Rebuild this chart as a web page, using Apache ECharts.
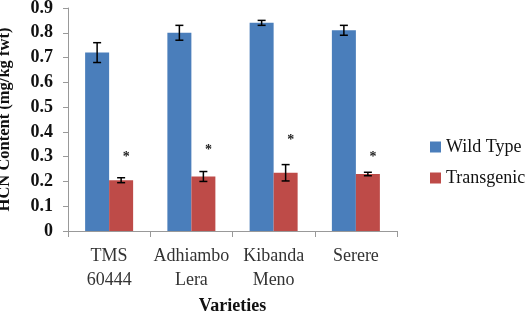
<!DOCTYPE html>
<html>
<head>
<meta charset="utf-8">
<script src="https://cdn.jsdelivr.net/npm/echarts@6/dist/echarts.min.js"></script>
<style>
  html, body { margin: 0; padding: 0; background: #fff; }
  #chart { width: 531px; height: 315px; }
</style>
</head>
<body>
<div id="chart"></div>
<script>
const varieties = ["TMS\n60444", "Adhiambo\nLera", "Kibanda\nMeno", "Serere"]
const wildType = [0.72, 0.80, 0.84, 0.81]
const wildTypeErr = [0.04, 0.03, 0.01, 0.02]
const transgenic = [0.205, 0.22, 0.235, 0.23]
const transgenicErr = [0.01, 0.02, 0.033, 0.007]
// where the significance stars sit
const starY = [0.305, 0.335, 0.375, 0.305]
const yTicks = [0, 0.1, 0.2, 0.3, 0.4, 0.5, 0.6, 0.7, 0.8, 0.9]

const barW = 24
const serif = "Liberation Serif"

const chart = echarts.init(document.getElementById("chart"))

// draws one error bar centred on a bar (shift = -1 left bar, +1 right bar)
const errorBar = (vals, errs, shift) => (params, api) => {
  const i = api.value(0)
  const x = api.coord([i, 0])[0] + shift * barW / 2
  const top = api.coord([i, vals[i] + errs[i]])[1]
  const bot = api.coord([i, vals[i] - errs[i]])[1]
  const style = { stroke: "#000", lineWidth: 1.5 }
  return {
    type: "group",
    children: [
      { type: "line", shape: { x1: x, y1: top, x2: x, y2: bot }, style },
      { type: "line", shape: { x1: x - 4, y1: top, x2: x + 4, y2: top }, style },
      { type: "line", shape: { x1: x - 4, y1: bot, x2: x + 4, y2: bot }, style },
    ],
  }
}

const option = {
  animation: false,
  textStyle: { fontFamily: serif },
  grid: { left: 68, right: 134, top: 8, bottom: 84, outerBoundsMode: "none" },
  legend: {
    orient: "vertical",
    left: 430,
    top: 138,
    padding: 0,
    itemWidth: 11,
    itemHeight: 11,
    itemGap: 13,
    icon: "rect",
    data: ["Wild Type", "Transgenic"],
    textStyle: { fontFamily: serif, fontSize: 18, color: "#111" },
  },
  xAxis: {
    type: "category",
    data: varieties,
    name: "Varieties",
    nameLocation: "middle",
    nameGap: 65,
    nameTextStyle: { fontFamily: serif, fontSize: 18, fontWeight: "bold", color: "#111" },
    axisLine: { lineStyle: { color: "#999" } },
    axisTick: { show: true, length: 6, lineStyle: { color: "#999" } },
    axisLabel: { interval: 0, fontFamily: serif, fontSize: 18, color: "#333", lineHeight: 24, margin: 13 },
  },
  yAxis: {
    type: "value",
    min: 0,
    max: 0.9,
    interval: 0.1,
    name: "HCN Content (mg/kg fwt)",
    nameLocation: "middle",
    nameGap: 55,
    nameTextStyle: { fontFamily: serif, fontSize: 16.5, fontWeight: "bold", color: "#111" },
    axisLine: { show: true, lineStyle: { color: "#999" } },
    axisTick: { show: true, length: 5, lineStyle: { color: "#999" } },
    splitLine: { show: false },
    axisLabel: {
      fontFamily: serif,
      fontSize: 18,
      fontWeight: "bold",
      color: "#111",
      margin: 15,
      formatter: (v) => {
        const t = yTicks.find((k) => Math.abs(k - v) < 1e-6)
        return t === 0 ? "0" : String(t)
      },
    },
  },
  series: [
    {
      name: "Wild Type",
      type: "bar",
      data: wildType,
      barWidth: barW,
      barGap: "0%",
      itemStyle: { color: "#4a7ebb" },
    },
    {
      name: "Transgenic",
      type: "bar",
      data: transgenic,
      barWidth: barW,
      barGap: "0%",
      itemStyle: { color: "#be4b48" },
    },
    {
      type: "custom",
      data: varieties.map((_, i) => [i]),
      renderItem: errorBar(wildType, wildTypeErr, -1),
      z: 5,
    },
    {
      type: "custom",
      data: varieties.map((_, i) => [i]),
      renderItem: errorBar(transgenic, transgenicErr, 1),
      z: 5,
    },
    {
      type: "custom",
      data: starY.map((v, i) => [i, v]),
      renderItem: (params, api) => {
        const p = api.coord([api.value(0), api.value(1)])
        return {
          type: "text",
          x: p[0] + barW / 2 + 5,
          y: p[1] + 2,
          style: {
            text: "*",
            fontFamily: serif,
            fontSize: 14,
            fontWeight: "bold",
            fill: "#222",
            align: "center",
            verticalAlign: "middle",
          },
        }
      },
      z: 5,
    },
  ],
}

chart.setOption(option)
</script>
</body>
</html>
